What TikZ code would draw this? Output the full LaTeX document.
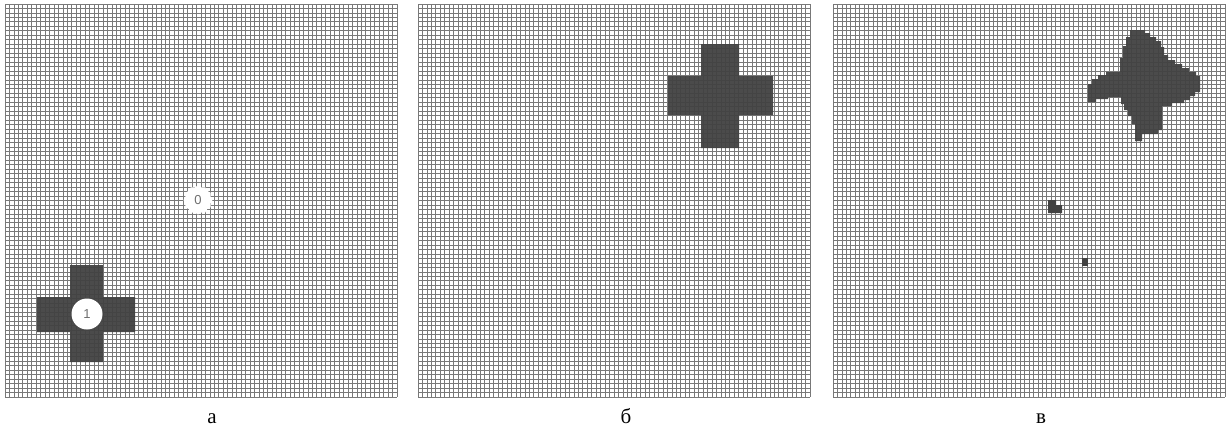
\documentclass[tikz,border=0pt]{standalone}
\usepackage{fontspec}
\setmainfont{Liberation Serif}
\newfontfamily\cifras{Liberation Sans}
\usetikzlibrary{shapes.geometric,positioning}

\begin{document}
\begin{tikzpicture}[x=1pt, y=-1pt]
    % Colores
    \definecolor{celda}{RGB}{120,120,120}
    \definecolor{figura}{RGB}{66,66,66}
    \definecolor{etiqueta}{RGB}{110,110,110}
    \tikzset{
        linea/.style={celda, line width=0.8pt},
        mancha/.style={figura, opacity=0.95},
        agente/.style={circle, fill=white, inner sep=0pt, minimum size=31pt, font=\cifras\fontsize{13}{13}\selectfont, text=etiqueta},
        letra/.style={font=\fontsize{21}{24}\selectfont, anchor=base}
    }
    \useasboundingbox (0,0) rectangle (1227,431);

    % Rejillas de los tres paneles
    \foreach \x in {5,418,833}{
        \fill[white] (\x,4) rectangle ++(392,393);
        \foreach \i in {0,...,88}{
            \draw[linea] ({\x+\i*4.455},4) -- ++(0,393);
            \draw[linea] (\x,{4+\i*4.466}) -- ++(392,0);
        }
    }

    % Panel a: cruz con agente 1
    \fill[mancha] (70,265) -- (103,265) -- (103,297) -- (135,297) -- (135,332)
        -- (103,332) -- (103,362) -- (70,362) -- (70,332) -- (37,332)
        -- (37,297) -- (70,297) -- cycle;
    \node[agente] (ag1) at (87,314) {1};
    \node[agente, star, star points=12, star point ratio=1.12, minimum size=29pt] (ag0) at (198,200) {0};

    % Panel b: cruz desplazada
    \fill[mancha] (701,44) -- (739,44) -- (739,76) -- (773,76) -- (773,115)
        -- (739,115) -- (739,148) -- (701,148) -- (701,115) -- (668,115)
        -- (668,76) -- (701,76) -- cycle;

    % Panel c: forma deformada
    \fill[mancha] (1130,30) -- (1145,30) -- (1145,33) -- (1150,33)
        -- (1150,37) -- (1156,37) -- (1156,41) -- (1161,41) -- (1161,47)
        -- (1164,47) -- (1164,55) -- (1168,55) -- (1168,60) -- (1175,60)
        -- (1175,64) -- (1182,64) -- (1182,68) -- (1189,68) -- (1189,72)
        -- (1196,72) -- (1196,76) -- (1200,76) -- (1200,92) -- (1195,92)
        -- (1195,96) -- (1190,96) -- (1190,100) -- (1184,100) -- (1184,103)
        -- (1172,103) -- (1172,106) -- (1162,106) -- (1162,130) -- (1158,130)
        -- (1158,134) -- (1142,134) -- (1142,141) -- (1135,141) -- (1135,124)
        -- (1132,124) -- (1132,116) -- (1128,116) -- (1128,110) -- (1124,110)
        -- (1124,104) -- (1121,104) -- (1121,97) -- (1108,97) -- (1108,99)
        -- (1096,99) -- (1096,102) -- (1088,102) -- (1088,84) -- (1092,84)
        -- (1092,79) -- (1098,79) -- (1098,75) -- (1106,75) -- (1106,72)
        -- (1120,72) -- (1120,58) -- (1123,58) -- (1123,46) -- (1126,46)
        -- (1126,37) -- (1130,37) -- cycle;
    \fill[figura] (1048,200) -- (1056,200) -- (1056,205) -- (1062,205)
        -- (1062,213) -- (1048,213) -- cycle;
    \fill[figura] (1082,258) rectangle (1088,266);

    % Rotulos
    \node[letra] (la) at (212,423) {а};
    \node[letra] (lb) at (626,423) {б};
    \node[letra] (lc) at (1041,423) {в};
\end{tikzpicture}
\end{document}
